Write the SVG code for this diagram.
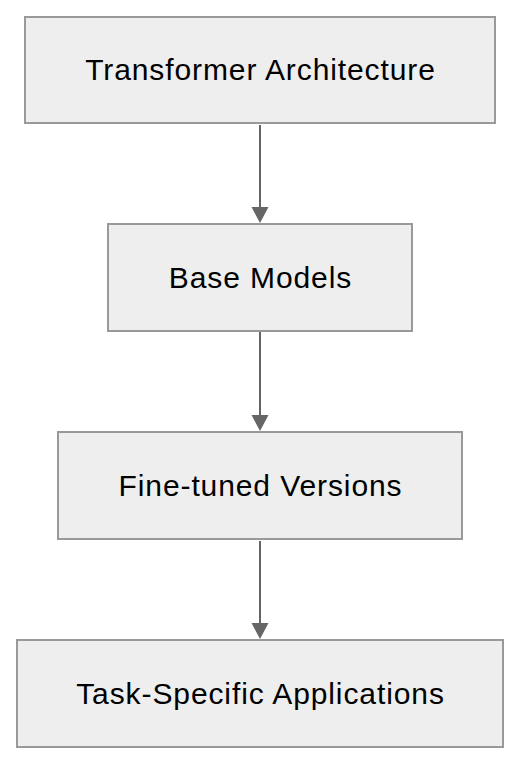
<svg xmlns="http://www.w3.org/2000/svg" width="520" height="764" viewBox="0 0 520 764">
<style>
.box{fill:#eeeeee;stroke:#999999;stroke-width:2}
.lbl{font-family:"Liberation Sans",Arial,sans-serif;font-size:30px;letter-spacing:0.9px;fill:#000000;text-anchor:middle}
.edge{stroke:#666666;stroke-width:2;fill:none}
.head{fill:#666666}
</style>
<rect width="520" height="764" fill="#ffffff"/>
<g id="connectors">
<line class="edge" x1="260" y1="125" x2="260" y2="208"/>
<polygon class="head" points="251.5,207 268.5,207 260,223"/>
<line class="edge" x1="260" y1="332" x2="260" y2="416"/>
<polygon class="head" points="251.5,415 268.5,415 260,431"/>
<line class="edge" x1="260" y1="541" x2="260" y2="624"/>
<polygon class="head" points="251.5,623 268.5,623 260,639"/>
</g>
<g id="node-transformer">
<rect class="box" x="25" y="17" width="470" height="106"/>
<text class="lbl" x="260.5" y="80">Transformer Architecture</text>
</g>
<g id="node-base">
<rect class="box" x="108" y="224" width="304" height="107"/>
<text class="lbl" x="260.5" y="288">Base Models</text>
</g>
<g id="node-finetuned">
<rect class="box" x="58" y="432" width="404" height="107"/>
<text class="lbl" x="260.5" y="496">Fine-tuned Versions</text>
</g>
<g id="node-task">
<rect class="box" x="17" y="640" width="486" height="107"/>
<text class="lbl" x="260.5" y="704">Task-Specific Applications</text>
</g>
</svg>
